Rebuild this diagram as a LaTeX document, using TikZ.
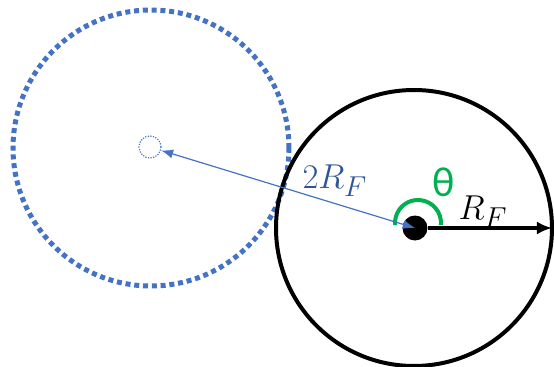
\documentclass[tikz,border=0pt]{standalone}
\usepackage{fontspec}
\usepackage{tikz}
\usetikzlibrary{arrows.meta}
\newfontfamily\greekfont{Carlito}
\definecolor{ringblue}{HTML}{4472C4}
\definecolor{labelblue}{HTML}{2F5597}
\definecolor{anglegreen}{HTML}{00B050}

\begin{document}
\begin{tikzpicture}[
    x=0.5pt, y=0.5pt,
    ring/.style={circle, draw=black, line width=2pt, minimum size=138pt, inner sep=0pt, outer sep=0pt},
    ghost/.style={circle, draw=ringblue, line width=2.5pt, dash pattern=on 2.5pt off 1.9pt, minimum size=138pt, inner sep=0pt},
    image/.style={circle, draw=ringblue, line width=0.6pt, dash pattern=on 0.6pt off 0.7pt, minimum size=11pt, inner sep=0pt},
    hub/.style={circle, fill=black, minimum size=12.5pt, inner sep=0pt},
    pointer/.style={{Latex[length=6pt,width=4.5pt]}-{Latex[length=6pt,width=4.5pt]}, line width=0.6pt, color=ringblue},
    radius arrow/.style={-{Latex[length=7.5pt,width=6.5pt]}, line width=1.7pt},
    angle mark/.style={line width=2pt, color=anglegreen},
    tag/.style={font=\fontsize{19}{22}\selectfont, inner sep=0pt}
]
    \useasboundingbox (0,0) rectangle (554,366);

    \node[ghost] (mirror) at (151,218) {};
    \node[image] (spot) at (150,219) {};
    \node[ring] (home) at (414,138) {};
    \node[hub] (centre) at (415,138) {};

    \draw[angle mark] (418,143) ++(-5:23) arc[start angle=-5, end angle=185, radius=23];
    \draw[radius arrow] (centre) -- (home.east);
    \draw[pointer] (spot) -- (centre.center);

    \node[tag, text=labelblue] (twice) at (335,185) {$2R_F$};
    \node[tag, text=anglegreen] (theta) at (444,184) {\greekfont\fontsize{21}{24}\selectfont θ};
    \node[tag] (radius) at (483,154) {$R_F$};
\end{tikzpicture}
\end{document}
